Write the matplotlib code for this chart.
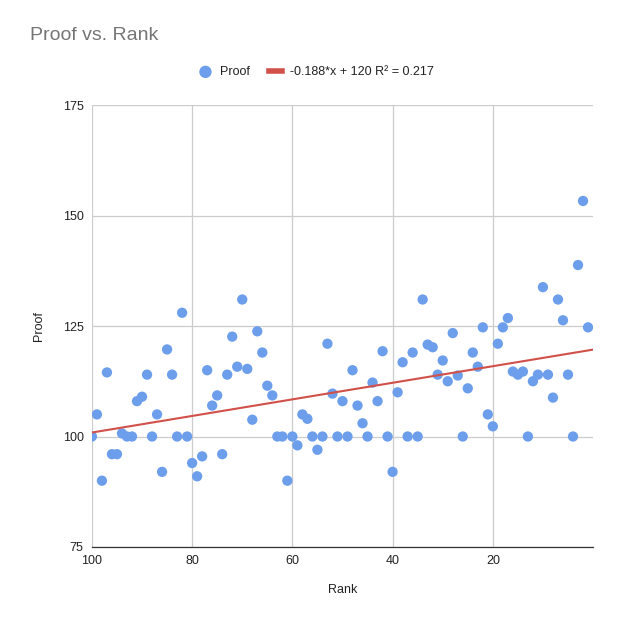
import numpy as np
import matplotlib
matplotlib.use("Agg")
import matplotlib.pyplot as plt

plt.rcParams['font.family'] = ['Liberation Sans', 'DejaVu Sans']

# Rank 100 .. 1 and the proof value
rank = np.arange(100, 0, -1)
proof = [100, 105, 90, 114.5, 96, 96, 100.7, 100, 100, 108,
         109, 114, 100, 105, 92, 119.7, 114, 100, 128, 100,
         94, 91, 95.5, 115, 107, 109.3, 96, 114, 122.6, 115.8,
         131, 115.3, 103.8, 123.8, 119, 111.5, 109.3, 100, 100, 90,
         100, 98, 105, 104, 100, 97, 100, 121, 109.7, 100,
         108, 100, 115, 107, 103, 100, 112.2, 108, 119.3, 100,
         92, 110, 116.8, 100, 119, 100, 131, 120.8, 120.2, 114,
         117.2, 112.5, 123.4, 113.8, 100, 110.9, 119, 115.8, 124.7, 105,
         102.3, 121, 124.7, 126.8, 114.7, 114, 114.7, 100, 112.5, 114,
         133.8, 114, 108.8, 131, 126.3, 114, 100, 138.8, 153.3, 124.7]
trend_label = "-0.188*x + 120 R\u00b2 = 0.217"

fig = plt.figure(figsize=(6.21, 6.22), dpi=100)
ax = fig.add_axes([0.148, 0.1206, 0.807, 0.7105])

ax.scatter(rank, proof, s=55, color='#6d9eeb', edgecolors='none', zorder=3, label='Proof')

slope, icpt = np.polyfit(rank, proof, 1)
xs = np.array([100, 0])
ax.plot(xs, slope * xs + icpt, color='#d1504a', lw=1.5, zorder=4, label=trend_label)

ax.set_xlim(100, 0)
ax.set_ylim(75, 175)
ax.set_xticks([100, 80, 60, 40, 20])
ax.set_yticks([75, 100, 125, 150, 175])
ax.grid(True, color='#cccccc', lw=0.9)
ax.set_axisbelow(True)
for s in ['top', 'right', 'left']:
    ax.spines[s].set_visible(False)
ax.spines['bottom'].set_color('#333333')
ax.spines['bottom'].set_linewidth(0.9)
ax.tick_params(length=0, labelsize=9, colors='#222222', pad=6)

ax.set_xlabel('Rank', fontsize=9, color='#222222', labelpad=12)
ax.set_ylabel('Proof', fontsize=9, color='#222222', labelpad=13)

fig.text(0.048, 0.943, 'Proof vs. Rank', fontsize=14, color='#757575', va='center')
leg = fig.legend(loc='center', bbox_to_anchor=(0.51, 0.884), ncol=2, frameon=False,
                 fontsize=9, handlelength=1.0, handletextpad=0.7, columnspacing=1.5,
                 markerscale=1.2)
for t in leg.get_texts():
    t.set_color('#222222')
leg.legend_handles[1].set_linewidth(4)

fig.savefig('out.png', dpi=100, facecolor='white')
